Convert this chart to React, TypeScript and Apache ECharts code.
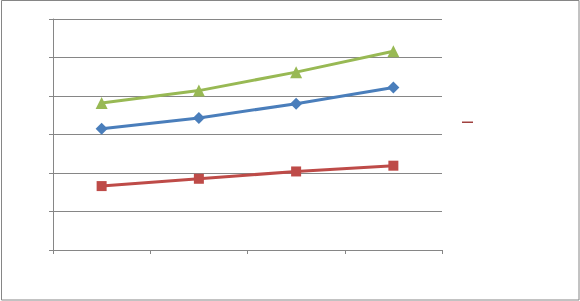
import React, { useEffect, useRef } from "react";
import * as echarts from "echarts";

const categories = ["1", "2", "3", "4"];
const seriesNames = ["Series1", "Series2", "Series3"];
const blueValues = [3.15, 3.43, 3.8, 4.22];
const redValues = [1.66, 1.85, 2.04, 2.19];
const greenValues = [3.82, 4.14, 4.62, 5.16];

export default function App() {
  const ref = useRef<HTMLDivElement>(null);
  useEffect(() => {
    document.body.style.margin = "0";
    if (!ref.current) return;
    const chart = echarts.init(ref.current, undefined, { renderer: "svg" });
    const gray = "#868686";
    chart.setOption({
      animation: false,
      backgroundColor: "#ffffff",
      grid: { left: 53, right: 138, top: 19, bottom: 51, containLabel: false },
      legend: {
        show: true,
        left: 462,
        top: 121.5,
        padding: 0,
        data: [
          {
            name: seriesNames[1],
            icon: "rect",
            itemStyle: { color: "#a0413f" },
          },
        ],
        itemWidth: 11,
        itemHeight: 1.5,
        formatter: () => "",
        selectedMode: false,
      },
      graphic: [
        {
          type: "rect",
          shape: { x: 1.5, y: 0.5, width: 577.5, height: 299.5 },
          style: { fill: "none", stroke: gray, lineWidth: 1 },
          silent: true,
        },
      ],
      xAxis: {
        type: "category",
        data: categories,
        boundaryGap: true,
        axisLine: { show: true, lineStyle: { color: gray, width: 1 } },
        axisTick: { show: true, length: 4, inside: false, lineStyle: { color: gray } },
        axisLabel: { show: false },
        splitLine: { show: false },
      },
      yAxis: {
        type: "value",
        min: 0,
        max: 6,
        interval: 1,
        axisLine: { show: true, lineStyle: { color: gray, width: 1 } },
        axisTick: { show: true, length: 4, inside: false, lineStyle: { color: gray } },
        axisLabel: { show: false },
        splitLine: { show: true, lineStyle: { color: gray, width: 1 } },
      },
      series: [
        {
          name: seriesNames[0],
          type: "line",
          data: blueValues,
          symbol: "diamond",
          symbolSize: 12,
          lineStyle: { color: "#4a7ebb", width: 3 },
          itemStyle: { color: "#4a7ebb" },
        },
        {
          name: seriesNames[1],
          type: "line",
          data: redValues,
          symbol: "rect",
          symbolSize: 10,
          lineStyle: { color: "#be4b48", width: 3 },
          itemStyle: { color: "#be4b48" },
        },
        {
          name: seriesNames[2],
          type: "line",
          data: greenValues,
          symbol: "triangle",
          symbolSize: 12,
          lineStyle: { color: "#98b954", width: 3 },
          itemStyle: { color: "#98b954" },
        },
      ],
    });
    return () => chart.dispose();
  }, []);
  return <div ref={ref} style={{ width: 580, height: 301 }} />;
}
